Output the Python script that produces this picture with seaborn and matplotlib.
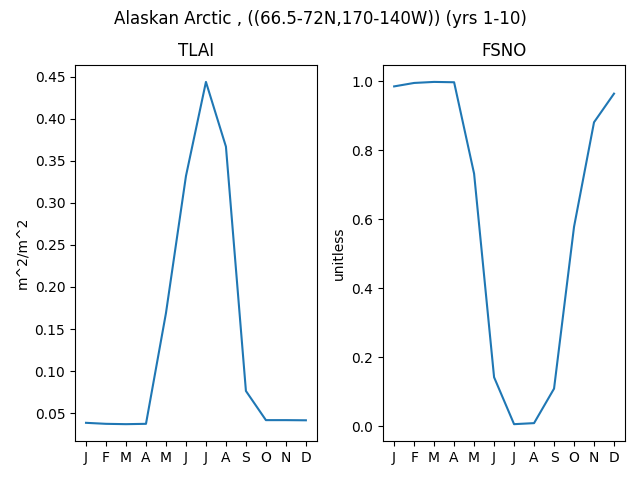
import pandas as pd
import matplotlib
matplotlib.use('Agg')
import matplotlib.pyplot as plt
import seaborn as sns

months = ['J', 'F', 'M', 'A', 'M', 'J', 'J', 'A', 'S', 'O', 'N', 'D']
tlai = [0.0384, 0.0372, 0.0368, 0.0372, 0.169, 0.332, 0.444, 0.367, 0.0763, 0.0416, 0.0416, 0.0414]
fsno = [0.985, 0.995, 0.998, 0.997, 0.732, 0.142, 0.006, 0.009, 0.109, 0.578, 0.881, 0.964]

data = pd.DataFrame({'month': range(12), 'TLAI': tlai, 'FSNO': fsno})

fig, axes = plt.subplots(1, 2, figsize=(6.4, 4.8))

sns.lineplot(data=data, x='month', y='TLAI', ax=axes[0])
axes[0].set_title('TLAI')
axes[0].set_ylabel('m^2/m^2')

sns.lineplot(data=data, x='month', y='FSNO', ax=axes[1])
axes[1].set_title('FSNO')
axes[1].set_ylabel('unitless')

for ax in axes:
    ax.set_xticks(range(12))
    ax.set_xticklabels(months)
    ax.set_xlabel('')

fig.suptitle('Alaskan Arctic , ((66.5-72N,170-140W)) (yrs 1-10)', y=0.98)
fig.tight_layout()
fig.subplots_adjust(top=0.865)
fig.savefig('out.png', dpi=100)
